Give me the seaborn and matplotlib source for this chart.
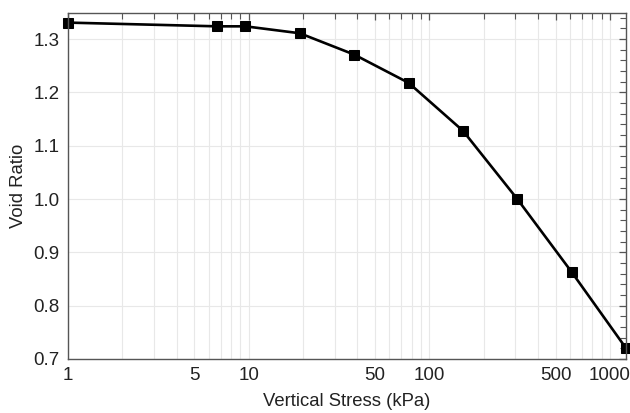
import matplotlib
matplotlib.use("Agg")
import matplotlib.pyplot as plt
import matplotlib.ticker as mticker
import seaborn as sns
import pandas as pd
import numpy as np

stress = [1, 6.7, 9.6, 19.2, 38.4, 76.8, 153.6, 307, 614, 1228]
void_ratio = [1.331, 1.324, 1.324, 1.311, 1.271, 1.218, 1.128, 1.000, 0.863, 0.720]
x_ticks = [1, 5, 10, 50, 100, 500, 1000]
x_tick_labels = ["1", "5", "10", "50", "100", "500", "1000"]
y_ticks = [0.7, 0.8, 0.9, 1.0, 1.1, 1.2, 1.3]

df = pd.DataFrame({"stress": stress, "void_ratio": void_ratio})

sns.set_style("white")
plt.rcParams["font.family"] = ["Liberation Sans", "DejaVu Sans"]

fig = plt.figure(figsize=(6.3, 4.13), dpi=100)
ax = fig.add_axes([0.108, 0.131, 0.8857, 0.8375])

ax.set_xscale("log")
ax.set_xlim(1, 1228)
ax.set_ylim(0.7, 1.349)

ax.xaxis.set_major_locator(mticker.FixedLocator(x_ticks))
ax.xaxis.set_major_formatter(mticker.FixedFormatter(x_tick_labels))
ax.xaxis.set_minor_locator(mticker.LogLocator(base=10, subs=np.arange(2, 10)))
ax.xaxis.set_minor_formatter(mticker.NullFormatter())
ax.yaxis.set_major_locator(mticker.FixedLocator(y_ticks))
ax.yaxis.set_major_formatter(mticker.FormatStrFormatter("%.1f"))
ax.yaxis.set_minor_locator(mticker.MultipleLocator(0.02))

ax.grid(True, which="major", axis="y", color="#e8e8e8", lw=0.8)
ax.grid(True, which="both", axis="x", color="#e8e8e8", lw=0.8)
ax.set_axisbelow(True)

sns.lineplot(data=df, x="stress", y="void_ratio", ax=ax, color="black",
             lw=1.9, marker="s", markersize=6.5, markeredgecolor="black",
             clip_on=False)

ax.tick_params(which="both", direction="in", top=True, right=True,
               color="#555555", labelsize=13.5, labelcolor="#222222", pad=6)
ax.tick_params(which="major", length=5, width=0.9)
ax.tick_params(which="minor", length=4, width=0.8)
for s in ax.spines.values():
    s.set_color("#555555")
    s.set_linewidth(1.0)

ax.set_xlabel("Vertical Stress (kPa)", fontsize=13.3, color="#222222", labelpad=6)
ax.set_ylabel("Void Ratio", fontsize=13.3, color="#222222", labelpad=5)

fig.savefig("out.png", dpi=100)
